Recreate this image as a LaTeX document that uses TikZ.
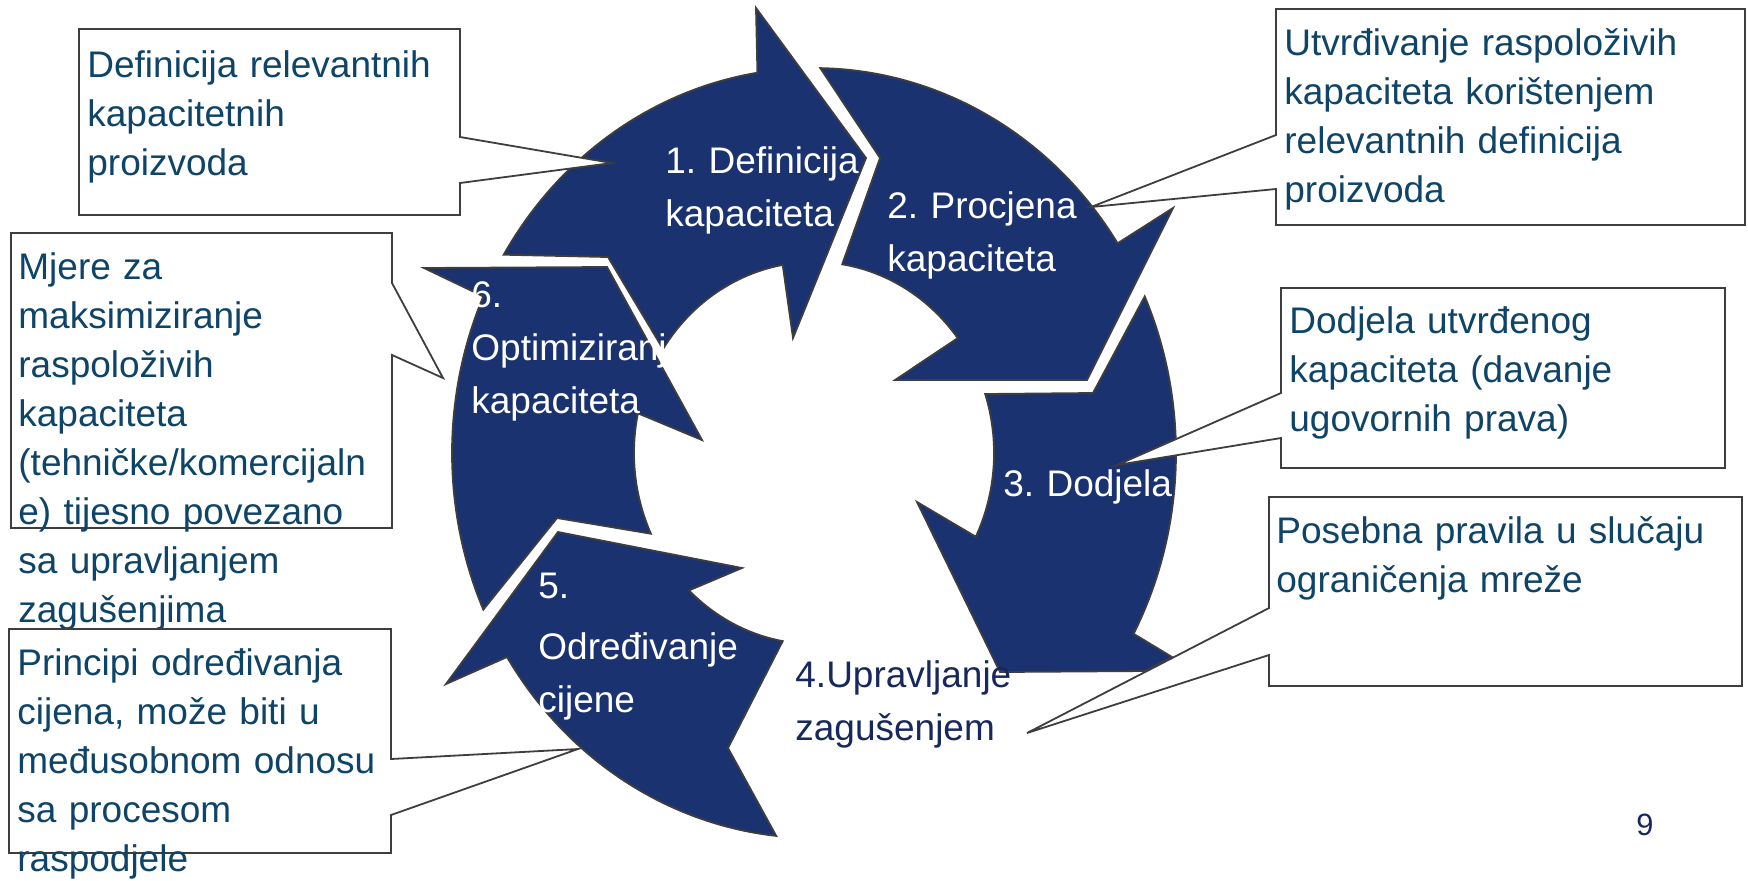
\documentclass[tikz,border=0pt]{standalone}
\usepackage{fontspec}
\setmainfont{Liberation Sans}
\frenchspacing
\definecolor{ringblue}{RGB}{27,50,112}
\definecolor{edgegray}{RGB}{62,62,62}
\definecolor{calloutink}{RGB}{14,68,104}
\definecolor{stepink}{RGB}{22,40,92}
\tikzset{
  ringarrow/.style={draw=edgegray, fill=ringblue, line width=0.9pt, line join=miter},
  calloutbox/.style={draw=edgegray, fill=white, line width=0.9pt},
  callouttext/.style={anchor=base west, inner sep=0pt, text width=240pt, align=left, text=calloutink, font=\fontsize{18.5}{24.5}\selectfont},
  ringtext/.style={anchor=base west, inner sep=0pt, text width=160pt, align=left, text=white, font=\fontsize{18.5}{26.5}\selectfont},
}
\begin{document}
\begin{tikzpicture}[x=0.5pt,y=0.5pt,yscale=-1,xscale=1]
\useasboundingbox (0,0) rectangle (1748,880);

%Shape: Circular Arrow 1
\draw [ringarrow] (503.7,254.7) .. controls (558.8,157.2) and (651.7,90.5) .. (757.4,72.7) -- (756,8) -- (866,158) -- (793,338) -- (782.7,264.9) .. controls (733.5,274.1) and (690.2,304.6) .. (663,349) -- (608,257) -- cycle ;
%Shape: Circular Arrow 2
\draw [ringarrow] (820.3,68.1) .. controls (940.6,70.3) and (1052.1,136) .. (1117.6,243.3) -- (1173,208) -- (1087,380) -- (895,380) -- (957.7,338.1) .. controls (929.6,298.6) and (888.3,272) .. (842.2,264.3) -- (880,158) -- cycle ;
%Shape: Circular Arrow 3
\draw [ringarrow] (1144.7,296.4) .. controls (1190,404.7) and (1185.9,529.2) .. (1133.6,633.8) -- (1172,657) -- (1145,671) -- (1000,672) -- (917,502) -- (975.8,536.7) .. controls (996.3,492.2) and (999.6,441.1) .. (985.2,394) -- (1093,393) -- cycle ;
%Shape: Circular Arrow 5
\draw [ringarrow] (776.2,835.9) .. controls (665.4,823.5) and (566,757.5) .. (507,657) -- (446,684) -- (558,532) -- (742,568) -- (689,590.4) .. controls (714.8,616.8) and (747.4,634.5) .. (782.7,641.1) -- (728,748) -- cycle ;
%Shape: Circular Arrow 6
\draw [ringarrow] (483.3,609.6) .. controls (441.6,509.9) and (441.6,396.1) .. (483.3,296.4) -- (424,268) -- (607,267) -- (702,440) -- (637.9,413.3) .. controls (629.8,453.9) and (634.4,496.1) .. (650.9,533.7) -- (557,518) -- cycle ;

%Shape: Rectangular Callout A
\draw [calloutbox] (79,29) -- (460,29) -- (460,137) -- (612,163) -- (460,183) -- (460,215) -- (79,215) -- cycle ;
% Text Node
\node [callouttext] (defnote) at (87,77) {Definicija relevantnih\\kapacitetnih\\proizvoda};

%Shape: Rectangular Callout B
\draw [calloutbox] (1276,9) -- (1745,9) -- (1745,225) -- (1276,225) -- (1276,189) -- (1091,207) -- (1276,135) -- cycle ;
% Text Node
\node [callouttext] (estnote) at (1284,55) {Utvrđivanje raspoloživih\\kapaciteta korištenjem\\relevantnih definicija\\proizvoda};

%Shape: Rectangular Callout E
\draw [calloutbox] (1281,288) -- (1725,288) -- (1725,468) -- (1281,468) -- (1281,438) -- (1117,465) -- (1281,393) -- cycle ;
% Text Node
\node [callouttext] (allocnote) at (1289,333) {Dodjela utvrđenog\\kapaciteta (davanje\\ugovornih prava)};

%Shape: Rectangular Callout F
\draw [calloutbox] (1269,497) -- (1742,497) -- (1742,686) -- (1269,686) -- (1269,655) -- (1027,733) -- (1269,608) -- cycle ;
% Text Node
\node [callouttext] (congnote) at (1276,543) {Posebna pravila u slučaju\\ograničenja mreže};

%Shape: Rectangular Callout C
\draw [calloutbox] (11,233) -- (392,233) -- (392,283) -- (443,378) -- (392,355) -- (392,528) -- (11,528) -- cycle ;
% Text Node
\node [callouttext] (optnote) at (18,279) {Mjere za\\maksimiziranje\\raspoloživih\\kapaciteta\\(tehničke/komercijaln\\e) tijesno povezano\\sa upravljanjem\\zagušenjima};

%Shape: Rectangular Callout D
\draw [calloutbox] (9,629) -- (391,629) -- (391,759) -- (578,749) -- (391,815) -- (391,853) -- (9,853) -- cycle ;
% Text Node
\node [callouttext] (pricenote) at (17,675) {Principi određivanja\\cijena, može biti u\\međusobnom odnosu\\sa procesom\\raspodjele};

% Text Node
\node [ringtext] (defstep) at (665,173) {1. Definicija\\kapaciteta};
% Text Node
\node [ringtext] (eststep) at (887,218) {2. Procjena\\kapaciteta};
% Text Node
\node [ringtext] (allocstep) at (1003,496) {3. Dodjela};
% Text Node
\node [ringtext, text=stepink] (congstep) at (795,687) {4.Upravljanje\\zagušenjem};
% Text Node
\node [ringtext] (pricestep) at (538,598) {5.\\[4pt]Određivanje\\cijene};
% Text Node
\node [ringtext] (optstep) at (471,307) {6.\\Optimiziranje\\kapaciteta};

% Text Node
\node [anchor=base west, inner sep=0pt, text=stepink, font=\fontsize{15.4}{18}\selectfont] (pagenum) at (1636,835) {9};

\end{tikzpicture}
\end{document}
